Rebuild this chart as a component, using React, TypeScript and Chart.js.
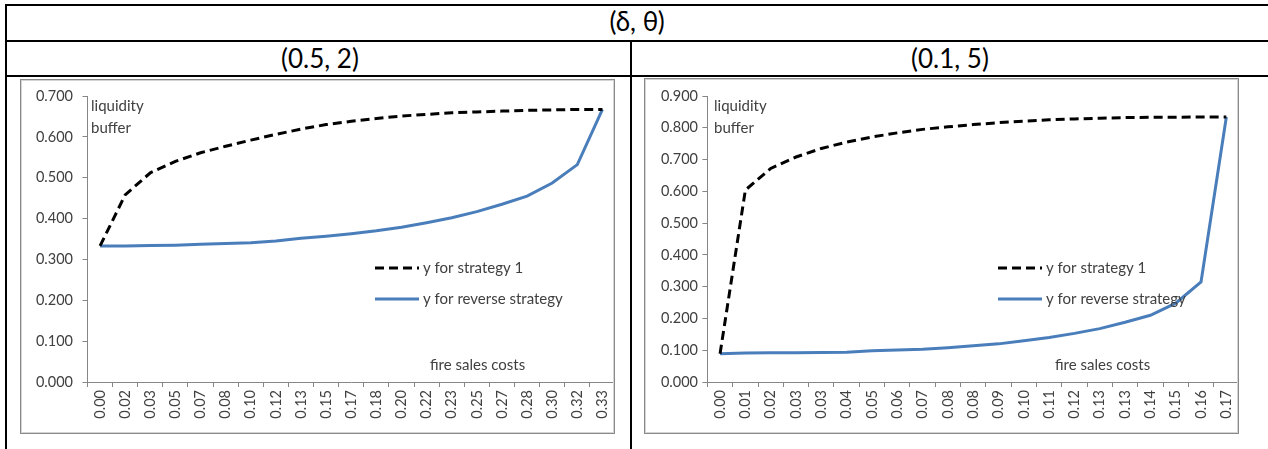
import React, { useEffect, useRef } from "react";
import { Chart, registerables } from "chart.js";

Chart.register(...registerables);

const FONT = "Lato, 'Open Sans', sans-serif";

// Left panel: (δ, θ) = (0.5, 2)
const leftCategories = [
  "0.00", "0.02", "0.03", "0.05", "0.07", "0.08", "0.10", "0.12", "0.13", "0.15", "0.17",
  "0.18", "0.20", "0.22", "0.23", "0.25", "0.27", "0.28", "0.30", "0.32", "0.33",
];
const leftStrategy1 = [
  0.333, 0.458, 0.512, 0.540, 0.561, 0.577, 0.592, 0.606, 0.619, 0.630, 0.638,
  0.645, 0.651, 0.655, 0.659, 0.661, 0.663, 0.665, 0.666, 0.667, 0.667,
];
const leftReverse = [
  0.333, 0.333, 0.334, 0.335, 0.337, 0.339, 0.341, 0.345, 0.352, 0.357, 0.363,
  0.370, 0.379, 0.390, 0.402, 0.417, 0.435, 0.455, 0.487, 0.532, 0.667,
];
const leftYMax = 0.7;

// Right panel: (δ, θ) = (0.1, 5)
const rightCategories = [
  "0.00", "0.01", "0.02", "0.03", "0.03", "0.04", "0.05", "0.06", "0.07", "0.08", "0.08",
  "0.09", "0.10", "0.11", "0.12", "0.13", "0.13", "0.14", "0.15", "0.16", "0.17",
];
const rightStrategy1 = [
  0.089, 0.604, 0.672, 0.708, 0.735, 0.755, 0.771, 0.784, 0.795, 0.803, 0.810,
  0.816, 0.821, 0.825, 0.828, 0.830, 0.832, 0.833, 0.833, 0.834, 0.834,
];
const rightReverse = [
  0.089, 0.091, 0.092, 0.092, 0.093, 0.094, 0.098, 0.101, 0.103, 0.108, 0.114,
  0.120, 0.130, 0.140, 0.153, 0.168, 0.188, 0.210, 0.248, 0.315, 0.834,
];
const rightYMax = 0.9;

const seriesLabels = ["y for strategy 1", "y for reverse strategy"];
const yTitleLines = ["liquidity", "buffer"];
const xTitle = "fire sales costs";
const headerTop = "(δ, θ)";
const headerLeft = "(0.5, 2)";
const headerRight = "(0.1, 5)";

type Layout = {
  w: number;
  h: number;
  top: number;
  xHeight: number;
  yWidth: number;
  yPad: number;
  legendX: number;
  legendY: number;
  titleX: number;
  titleY: number;
  xTitleX: number;
  xTitleY: number;
};

function makeOverlay(L: Layout) {
  return {
    id: "overlay",
    afterDraw(chart: any) {
      const ctx = chart.ctx;
      ctx.save();
      ctx.font = `15px ${FONT}`;
      ctx.fillStyle = "#404040";
      ctx.textBaseline = "middle";
      ctx.textAlign = "left";
      yTitleLines.forEach((t, i) => ctx.fillText(t, L.titleX, L.titleY + i * 22));
      ctx.fillText(xTitle, L.xTitleX, L.xTitleY);
      chart.data.datasets.forEach((ds: any, i: number) => {
        const y = L.legendY + i * 31;
        ctx.beginPath();
        ctx.setLineDash(ds.borderDash || []);
        ctx.strokeStyle = ds.borderColor;
        ctx.lineWidth = ds.borderWidth;
        ctx.moveTo(L.legendX, y);
        ctx.lineTo(L.legendX + 44, y);
        ctx.stroke();
        ctx.setLineDash([]);
        ctx.fillText(ds.label, L.legendX + 48, y);
      });
      ctx.restore();
    },
  };
}

function makeConfig(cats: string[], s1: number[], rev: number[], yMax: number, L: Layout): any {
  const tickFont = { family: FONT, size: 14.5 };
  return {
    type: "line",
    data: {
      labels: cats,
      datasets: [
        {
          label: seriesLabels[0],
          data: s1,
          borderColor: "#000000",
          borderWidth: 3,
          borderDash: [9, 5],
          pointRadius: 0,
          tension: 0,
          fill: false,
        },
        {
          label: seriesLabels[1],
          data: rev,
          borderColor: "#4a7ebb",
          borderWidth: 3,
          pointRadius: 0,
          tension: 0,
          fill: false,
        },
      ],
    },
    options: {
      responsive: false,
      animation: false,
      layout: { padding: { top: L.top, right: 0, left: 0, bottom: 0 } },
      plugins: { legend: { display: false }, tooltip: { enabled: false } },
      scales: {
        x: {
          type: "category",
          offset: true,
          grid: { offset: true, drawOnChartArea: false, tickLength: 5, color: "#868686" },
          border: { color: "#868686", width: 1 },
          ticks: {
            autoSkip: false,
            minRotation: 90,
            maxRotation: 90,
            padding: 3,
            color: "#404040",
            font: tickFont,
          },
          afterFit: (s: any) => {
            s.height = L.xHeight;
            s.paddingLeft = 0;
            s.paddingRight = 0;
          },
        },
        y: {
          min: 0,
          max: yMax,
          grid: { drawOnChartArea: false, tickLength: 5, color: "#868686" },
          border: { color: "#868686", width: 1 },
          ticks: {
            stepSize: 0.1,
            padding: L.yPad,
            color: "#404040",
            font: tickFont,
            callback: (v: any) => Number(v).toFixed(3),
          },
          afterFit: (s: any) => {
            s.width = L.yWidth;
            s.paddingTop = 0;
            s.paddingBottom = 0;
          },
        },
      },
    },
    plugins: [makeOverlay(L)],
  };
}

function LineChart(props: { cats: string[]; s1: number[]; rev: number[]; yMax: number; L: Layout }) {
  const ref = useRef<HTMLCanvasElement | null>(null);
  useEffect(() => {
    if (!ref.current) return;
    const chart = new Chart(ref.current, makeConfig(props.cats, props.s1, props.rev, props.yMax, props.L));
    return () => chart.destroy();
  }, []);
  return (
    <canvas
      ref={ref}
      width={props.L.w}
      height={props.L.h}
      style={{ width: props.L.w, height: props.L.h, display: "block" }}
    />
  );
}

const leftLayout: Layout = {
  w: 595, h: 355, top: 17, xHeight: 52, yWidth: 67.5, yPad: 9.5,
  legendX: 355, legendY: 189, titleX: 71, titleY: 27, xTitleX: 410, xTitleY: 286,
};
const rightLayout: Layout = {
  w: 595, h: 356, top: 18, xHeight: 52, yWidth: 63.4, yPad: 4.4,
  legendX: 354, legendY: 190, titleX: 70, titleY: 28, xTitleX: 411, xTitleY: 287,
};

const line = (left: number, top: number, width: number, height: number): React.CSSProperties => ({
  position: "absolute", left, top, width, height, background: "#000",
});

export default function App() {
  const headerStyle: React.CSSProperties = {
    position: "absolute", fontFamily: FONT, fontSize: 26, color: "#000",
    textAlign: "center", lineHeight: "1",
  };
  return (
    <div style={{ position: "absolute", left: 0, top: 0, width: 1268, height: 449, background: "#fff", overflow: "hidden" }}>
      <div style={line(5, 4, 1263, 2)} />
      <div style={line(5, 40, 1263, 2)} />
      <div style={line(5, 75, 1263, 2)} />
      <div style={line(5, 4, 2, 445)} />
      <div style={line(630, 40, 2, 409)} />
      <div style={{ ...headerStyle, left: 537, width: 200, top: 8 }}>{headerTop}</div>
      <div style={{ ...headerStyle, left: 220, width: 200, top: 45 }}>{headerLeft}</div>
      <div style={{ ...headerStyle, left: 850, width: 200, top: 45 }}>{headerRight}</div>

      <div style={{ position: "absolute", left: 20, top: 79 }}>
        <LineChart cats={leftCategories} s1={leftStrategy1} rev={leftReverse} yMax={leftYMax} L={leftLayout} />
        <div style={{ position: "absolute", left: 0, top: 0, width: 595, height: 355, boxSizing: "border-box", border: "1px solid #8a8a8a", boxShadow: "inset 0 0 0 1px #d4d4d4", pointerEvents: "none" }} />
      </div>
      <div style={{ position: "absolute", left: 644, top: 78 }}>
        <LineChart cats={rightCategories} s1={rightStrategy1} rev={rightReverse} yMax={rightYMax} L={rightLayout} />
        <div style={{ position: "absolute", left: 0, top: 0, width: 595, height: 356, boxSizing: "border-box", border: "1px solid #8a8a8a", boxShadow: "inset 0 0 0 1px #d4d4d4", pointerEvents: "none" }} />
      </div>
    </div>
  );
}
